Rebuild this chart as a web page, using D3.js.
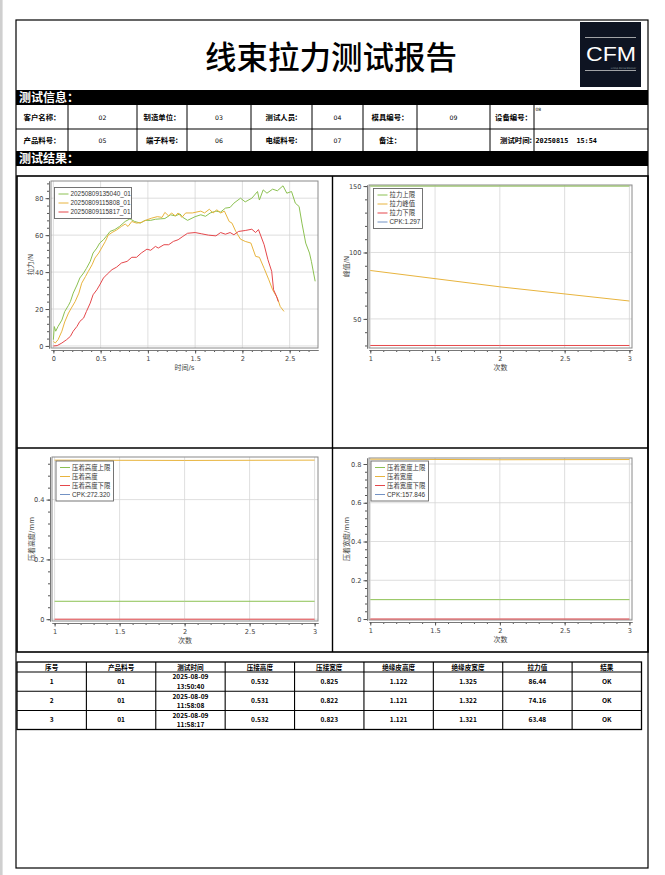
<!DOCTYPE html>
<html lang="zh">
<head>
<meta charset="UTF-8">
<title>线束拉力测试报告</title>
<script src="https://d3js.org/d3.v7.min.js"></script>
<style>
  body { margin: 0; background: #fff; }
  svg { display: block; }
</style>
</head>
<body>
<svg id="page"></svg>
<script>
// ---- data ----
const curveNames = ['20250809135040_01', '20250809115808_01', '20250809115817_01'];
const curve1Time = [0, 0.01, 0.025, 0.05, 0.09, 0.12, 0.16, 0.18, 0.21, 0.25, 0.28, 0.32, 0.35, 0.39, 0.42, 0.46, 0.49, 0.53, 0.57, 0.6, 0.65, 0.7, 0.76, 0.81, 0.86, 0.92, 0.97, 1.03, 1.08, 1.13, 1.18, 1.24, 1.29, 1.34, 1.37, 1.42, 1.5, 1.56, 1.61, 1.66, 1.72, 1.77, 1.82, 1.87, 1.91, 1.98, 2.03, 2.1, 2.16, 2.18, 2.22, 2.26, 2.32, 2.37, 2.43, 2.47, 2.52, 2.56, 2.6, 2.63, 2.67, 2.71, 2.73, 2.77];
const curve1Force = [3.4, 10.5, 8, 10.6, 14, 18.6, 22, 24, 28.6, 33, 36.8, 39.5, 42, 45.8, 50.3, 53, 55.7, 57.5, 60, 62, 63, 64.7, 67.4, 68.8, 67.4, 66.5, 68, 68, 68.6, 68.8, 69, 71, 70.4, 71.5, 69.6, 68, 70, 71, 70.2, 72, 73, 72.5, 74.6, 75, 77.3, 80, 78, 80, 83.6, 79, 84.5, 82.7, 84.9, 84, 86.7, 82.7, 83.6, 77.3, 75.5, 66.5, 55.7, 50.3, 45.8, 35];
const curve2Time = [0, 0.02, 0.05, 0.09, 0.12, 0.16, 0.19, 0.23, 0.27, 0.3, 0.34, 0.37, 0.41, 0.44, 0.48, 0.51, 0.55, 0.58, 0.62, 0.67, 0.72, 0.76, 0.79, 0.83, 0.88, 0.93, 0.99, 1.04, 1.1, 1.15, 1.18, 1.22, 1.25, 1.29, 1.32, 1.36, 1.4, 1.47, 1.56, 1.6, 1.65, 1.69, 1.73, 1.77, 1.81, 1.86, 1.89, 1.93, 1.98, 2.03, 2.09, 2.14, 2.18, 2.23, 2.28, 2.32, 2.37, 2.4, 2.44];
const curve2Force = [2.5, 1.6, 3.4, 8, 13, 17.8, 20.5, 24, 28.6, 34, 37.6, 40.4, 44, 47.6, 50.3, 53, 56.6, 60, 61.4, 62.8, 64.7, 66, 64.7, 67.4, 66.5, 66.9, 68.3, 69.2, 70, 69.6, 72.3, 70.4, 72, 70.4, 72, 69.6, 72, 72, 73, 72, 74, 72, 73.7, 72, 73, 67.4, 66.5, 62, 57.8, 56.6, 55.7, 48.5, 48, 42, 35.8, 30.4, 26, 21.4, 18.7];
const curve3Time = [0, 0.04, 0.09, 0.14, 0.18, 0.21, 0.25, 0.28, 0.32, 0.35, 0.39, 0.42, 0.46, 0.49, 0.53, 0.57, 0.62, 0.67, 0.72, 0.78, 0.83, 0.88, 0.93, 0.99, 1.03, 1.08, 1.11, 1.17, 1.22, 1.27, 1.32, 1.37, 1.42, 1.5, 1.57, 1.64, 1.72, 1.77, 1.82, 1.87, 1.91, 1.96, 2.03, 2.1, 2.14, 2.17, 2.23, 2.27, 2.31, 2.33, 2.36, 2.38];
const curve3Force = [0, 0.2, 1.6, 3.4, 5.2, 8, 10.6, 13.3, 15.1, 18.7, 23.2, 27.7, 30.4, 33, 36.8, 38.9, 41.3, 42.7, 44.9, 45.8, 48, 48, 50.3, 52.4, 51.8, 53.9, 53, 54.8, 54.8, 56.6, 57.5, 59.3, 61, 61.4, 60.7, 60, 59.6, 61.4, 60.5, 61.4, 60.2, 62, 62.5, 63.2, 61.4, 63, 54.8, 46.7, 40.4, 30.4, 27, 24];

const runIndex = [1, 2, 3];
const forceUpper = [150, 150, 150];
const forcePeak = [86.44, 74.16, 63.48];
const forceLower = [30, 30, 30];
const heightUpper = [0.06, 0.06, 0.06];
const crimpHeight = [0.532, 0.531, 0.532];
const heightLower = [0, 0, 0];
const widthUpper = [0.1, 0.1, 0.1];
const crimpWidth = [0.825, 0.822, 0.823];
const widthLower = [0, 0, 0];

const infoLabels1 = ['客户名称：', '制造单位：', '测试人员:', '模具编号：', '设备编号：'];
const infoValues1 = ['02', '03', '04', '09', '08'];
const infoLabels2 = ['产品料号：', '端子料号:', '电缆料号:', '备注：', '测试时间:'];
const infoValues2 = ['05', '06', '07', '', '20250815  15:54'];

const tableHeaders = ['序号', '产品料号', '测试时间', '压接高度', '压接宽度', '绝缘皮高度', '绝缘皮宽度', '拉力值', '结果'];
const productNo = ['01', '01', '01'];
const testDate = ['2025-08-09', '2025-08-09', '2025-08-09'];
const testClock = ['13:50:40', '11:58:08', '11:58:17'];
const insulHeight = [1.122, 1.121, 1.121];
const insulWidth = [1.325, 1.322, 1.321];
const results = ['OK', 'OK', 'OK'];

// ---- styles ----
const GREEN = '#8cc152', ORANGE = '#e8b43e', RED = '#e5474b', BLUE = '#7392c4';
const CJK = '"Noto Sans CJK SC", sans-serif';
const CHART_FONT = '"DejaVu Sans", "Noto Sans CJK SC", sans-serif';
const LEGEND_FONT = '"Liberation Sans", "Noto Sans CJK SC", sans-serif';

const svg = d3.select('#page').attr('width', 665).attr('height', 875);

// left gray strip of the viewer
svg.append('rect').attr('x', 0).attr('y', 0).attr('width', 2.6).attr('height', 875).attr('fill', '#cfcfcf');

// page frame
svg.append('rect').attr('x', 16).attr('y', 20).attr('width', 632).attr('height', 848)
  .attr('fill', 'none').attr('stroke', '#000').attr('stroke-width', 1.2);

// title
svg.append('text').attr('x', 331).attr('y', 69).attr('text-anchor', 'middle')
  .attr('font-family', CJK).attr('font-size', 31.5).attr('font-weight', 500)
  .text('线束拉力测试报告');

// logo
const logo = svg.append('g');
logo.append('rect').attr('x', 580).attr('y', 22).attr('width', 61).attr('height', 65).attr('fill', '#0e1422');
logo.append('line').attr('x1', 585).attr('x2', 636).attr('y1', 37.5).attr('y2', 37.5).attr('stroke', '#c8c8c8').attr('stroke-width', 0.8);
logo.append('line').attr('x1', 585).attr('x2', 636).attr('y1', 70.5).attr('y2', 70.5).attr('stroke', '#c8c8c8').attr('stroke-width', 0.8);
logo.append('text').attr('x', 586).attr('y', 60.5).attr('fill', '#fff')
  .attr('font-family', '"Liberation Sans", Arial, sans-serif').attr('font-size', 20.5)
  .attr('textLength', 50).attr('lengthAdjust', 'spacingAndGlyphs').text('CFM');
logo.append('text').attr('x', 636).attr('y', 68.8).attr('text-anchor', 'end').attr('fill', '#9aa')
  .attr('font-family', CHART_FONT).attr('font-size', 2.5).text('Crimp Force Monitor');

// section bars
function sectionBar(y, label) {
  svg.append('rect').attr('x', 16).attr('y', y).attr('width', 632).attr('height', 15).attr('fill', '#000');
  svg.append('text').attr('x', 19).attr('y', y + 12).attr('fill', '#fff')
    .attr('font-family', CJK).attr('font-size', 12).attr('font-weight', 700).text(label);
}
sectionBar(90, '测试信息：');
sectionBar(151, '测试结果：');

// info table
const infoCols = [16, 68, 137, 187, 251, 312, 363, 417, 490, 534, 648];
const infoRows = [105, 129, 151];
const info = svg.append('g');
infoCols.slice(1, -1).forEach(cx => {
  info.append('line').attr('x1', cx).attr('x2', cx).attr('y1', 105).attr('y2', 151).attr('stroke', '#000').attr('stroke-width', 1);
});
info.append('line').attr('x1', 16).attr('x2', 648).attr('y1', 129).attr('y2', 129).attr('stroke', '#000').attr('stroke-width', 1.2);
[[infoLabels1, infoValues1], [infoLabels2, infoValues2]].forEach(([labels, values], r) => {
  const cy = (infoRows[r] + infoRows[r + 1]) / 2 + 2.6;
  labels.forEach((lab, i) => {
    const a = infoCols[2 * i], b = infoCols[2 * i + 1], c = infoCols[2 * i + 2];
    const t = info.append('text').attr('y', cy).attr('font-family', CJK).attr('font-size', 7.4)
      .attr('font-weight', 700).text(lab);
    if (i === 4) t.attr('x', b - 2).attr('text-anchor', 'end');
    else t.attr('x', (a + b) / 2).attr('text-anchor', 'middle');
    const v = values[i];
    if (i === 4 && r === 0) {
      info.append('text').attr('x', b + 1.5).attr('y', infoRows[0] + 6).attr('font-family', CHART_FONT)
        .attr('font-size', 4.5).text(v);
    } else if (i === 4) {
      info.append('text').attr('x', b + 1.5).attr('y', cy).attr('font-family', '"DejaVu Sans Mono", monospace')
        .attr('font-size', 6.8).attr('font-weight', 700).attr('xml:space', 'preserve').text(v);
    } else {
      info.append('text').attr('x', (b + c) / 2).attr('y', cy).attr('text-anchor', 'middle')
        .attr('font-family', CHART_FONT).attr('font-size', 6.2).text(v);
    }
  });
});

// chart region frame
svg.append('rect').attr('x', 17).attr('y', 176).attr('width', 631).attr('height', 476)
  .attr('fill', 'none').attr('stroke', '#000').attr('stroke-width', 1.6);
svg.append('line').attr('x1', 332.5).attr('x2', 332.5).attr('y1', 176).attr('y2', 652).attr('stroke', '#000').attr('stroke-width', 1.4);
svg.append('line').attr('x1', 17).attr('x2', 648).attr('y1', 448).attr('y2', 448).attr('stroke', '#000').attr('stroke-width', 1.4);

// ---- chart helper ----
function drawChart(c) {
  const g = svg.append('g');
  const x = d3.scaleLinear().domain(c.xDomain).range([c.x0, c.x1]);
  const y = d3.scaleLinear().domain(c.yDomain).range([c.y1, c.y0]);
  g.append('rect').attr('x', c.x0).attr('y', c.y0).attr('width', c.x1 - c.x0).attr('height', c.y1 - c.y0)
    .attr('fill', '#fff');
  // grid
  g.append('g').selectAll('line').data(c.xTicks).join('line')
    .attr('x1', d => x(d)).attr('x2', d => x(d)).attr('y1', c.y0).attr('y2', c.y1)
    .attr('stroke', '#d6d6d6').attr('stroke-width', 0.8);
  g.append('g').selectAll('line').data(c.yTicks).join('line')
    .attr('x1', c.x0).attr('x2', c.x1).attr('y1', d => y(d)).attr('y2', d => y(d))
    .attr('stroke', '#d6d6d6').attr('stroke-width', 0.8);
  // plot outline
  g.append('rect').attr('x', c.x0).attr('y', c.y0).attr('width', c.x1 - c.x0).attr('height', c.y1 - c.y0)
    .attr('fill', 'none').attr('stroke', '#8a8a8a').attr('stroke-width', 1);
  // series
  const line = d3.line().x(d => x(d[0])).y(d => y(d[1]));
  c.series.forEach(s => {
    g.append('path').datum(d3.zip(s.xs, s.ys)).attr('d', line)
      .attr('fill', 'none').attr('stroke', s.color).attr('stroke-width', 1).attr('stroke-linejoin', 'round');
  });
  // axes
  const yAxisX = c.x0 - 2, xAxisY = c.y1 + 2;
  const styleAxis = sel => {
    sel.select('.domain').attr('stroke', '#777');
    sel.selectAll('.tick line').attr('stroke', '#555');
    sel.selectAll('text').attr('fill', '#444').attr('font-family', CHART_FONT).attr('font-size', 6.6);
  };
  g.append('g').attr('transform', `translate(0,${xAxisY})`)
    .call(d3.axisBottom(x).tickValues(c.xMinor).tickSize(2).tickFormat('').tickSizeOuter(0)).call(styleAxis);
  g.append('g').attr('transform', `translate(0,${xAxisY})`)
    .call(d3.axisBottom(x).tickValues(c.xTicks).tickSize(3.5).tickPadding(2.5).tickFormat(d3.format('~g')).tickSizeOuter(0))
    .call(styleAxis);
  g.append('g').attr('transform', `translate(${yAxisX},0)`)
    .call(d3.axisLeft(y).tickValues(c.yMinor).tickSize(2).tickFormat('').tickSizeOuter(0)).call(styleAxis);
  g.append('g').attr('transform', `translate(${yAxisX},0)`)
    .call(d3.axisLeft(y).tickValues(c.yTicks).tickSize(3.5).tickPadding(2).tickFormat(d3.format('~g')).tickSizeOuter(0))
    .call(styleAxis);
  // axis titles
  g.append('text').attr('x', (c.x0 + c.x1) / 2).attr('y', c.y1 + 22).attr('text-anchor', 'middle')
    .attr('font-family', CHART_FONT).attr('font-size', 7).attr('fill', '#444').text(c.xTitle);
  g.append('text').attr('transform', `translate(${c.yTitleX},${(c.y0 + c.y1) / 2}) rotate(-90)`)
    .attr('text-anchor', 'middle').attr('font-family', CHART_FONT).attr('font-size', 7).attr('fill', '#444')
    .text(c.yTitle);
  // legend
  const items = c.series.map(s => ({ label: s.label, color: s.color }));
  if (c.extra) items.push(c.extra);
  const lg = g.append('g').attr('transform', `translate(${c.legend.x},${c.legend.y})`);
  lg.append('rect').attr('width', c.legend.w).attr('height', 9 * items.length + 4)
    .attr('fill', '#fff').attr('stroke', '#666').attr('stroke-width', 0.9);
  items.forEach((it, i) => {
    const ly = 6.5 + i * 9;
    lg.append('line').attr('x1', 4).attr('x2', 14).attr('y1', ly).attr('y2', ly).attr('stroke', it.color).attr('stroke-width', 1);
    lg.append('text').attr('x', 16).attr('y', ly + 2.3).attr('font-family', LEGEND_FONT).attr('font-size', 6.4)
      .attr('fill', '#333').text(it.label);
  });
}

drawChart({
  x0: 51, x1: 318, y0: 181, y1: 348,
  xDomain: [-0.025, 2.8], yDomain: [-1.1, 89.3],
  xTicks: [0, 0.5, 1, 1.5, 2, 2.5], xMinor: d3.range(0, 2.75, 0.1),
  yTicks: [0, 20, 40, 60, 80], yMinor: d3.range(0, 89, 4),
  xTitle: '时间/s', yTitle: '拉力/N', yTitleX: 33,
  series: [
    { xs: curve1Time, ys: curve1Force, color: GREEN, label: curveNames[0] },
    { xs: curve2Time, ys: curve2Force, color: ORANGE, label: curveNames[1] },
    { xs: curve3Time, ys: curve3Force, color: RED, label: curveNames[2] }
  ],
  legend: { x: 54.5, y: 187.5, w: 77 }
});

drawChart({
  x0: 369, x1: 632, y0: 185, y1: 348,
  xDomain: [0.99, 3.02], yDomain: [28.1, 150.8],
  xTicks: [1, 1.5, 2, 2.5, 3], xMinor: d3.range(1, 3.01, 0.1),
  yTicks: [50, 100, 150], yMinor: d3.range(30, 151, 10),
  xTitle: '次数', yTitle: '峰值/N', yTitleX: 349,
  series: [
    { xs: runIndex, ys: forceUpper, color: GREEN, label: '拉力上限' },
    { xs: runIndex, ys: forcePeak, color: ORANGE, label: '拉力峰值' },
    { xs: runIndex, ys: forceLower, color: RED, label: '拉力下限' }
  ],
  extra: { label: 'CPK:1.297', color: BLUE },
  legend: { x: 373.5, y: 188.5, w: 49 }
});

drawChart({
  x0: 52, x1: 318, y0: 457, y1: 621,
  xDomain: [0.98, 3.026], yDomain: [-0.006, 0.5425],
  xTicks: [1, 1.5, 2, 2.5, 3], xMinor: d3.range(1, 3.01, 0.1),
  yTicks: [0, 0.2, 0.4], yMinor: d3.range(0, 0.54, 0.04),
  xTitle: '次数', yTitle: '压着高度/mm', yTitleX: 34,
  series: [
    { xs: runIndex, ys: heightUpper, color: GREEN, label: '压着高度上限' },
    { xs: runIndex, ys: crimpHeight, color: ORANGE, label: '压着高度' },
    { xs: runIndex, ys: heightLower, color: RED, label: '压着高度下限' }
  ],
  extra: { label: 'CPK:272.320', color: BLUE },
  legend: { x: 56, y: 461, w: 57.5 }
});

drawChart({
  x0: 369, x1: 632, y0: 458, y1: 620,
  xDomain: [0.99, 3.02], yDomain: [-0.005, 0.831],
  xTicks: [1, 1.5, 2, 2.5, 3], xMinor: d3.range(1, 3.01, 0.1),
  yTicks: [0, 0.2, 0.4, 0.6, 0.8], yMinor: d3.range(0, 0.83, 0.04),
  xTitle: '次数', yTitle: '压着宽度/mm', yTitleX: 349,
  series: [
    { xs: runIndex, ys: widthUpper, color: GREEN, label: '压着宽度上限' },
    { xs: runIndex, ys: crimpWidth, color: ORANGE, label: '压着宽度' },
    { xs: runIndex, ys: widthLower, color: RED, label: '压着宽度下限' }
  ],
  extra: { label: 'CPK:157.846', color: BLUE },
  legend: { x: 371, y: 461, w: 57.5 }
});

// ---- results table ----
const tX = d3.scaleBand().domain(d3.range(tableHeaders.length)).range([17, 641.5]);
const rowTops = [662, 672, 691.3, 710.5, 729.5];
const tbl = svg.append('g');
tbl.append('rect').attr('x', 17).attr('y', rowTops[0]).attr('width', 624.5).attr('height', rowTops[4] - rowTops[0])
  .attr('fill', 'none').attr('stroke', '#000').attr('stroke-width', 1.3);
d3.range(1, tableHeaders.length).forEach(i => {
  tbl.append('line').attr('x1', tX(i)).attr('x2', tX(i)).attr('y1', rowTops[0]).attr('y2', rowTops[4])
    .attr('stroke', '#000').attr('stroke-width', 1.1);
});
rowTops.slice(1, 4).forEach(ry => {
  tbl.append('line').attr('x1', 17).attr('x2', 641.5).attr('y1', ry).attr('y2', ry).attr('stroke', '#000').attr('stroke-width', 1.1);
});
const cellText = (i, cy, s) => tbl.append('text').attr('x', tX(i) + tX.bandwidth() / 2).attr('y', cy)
  .attr('text-anchor', 'middle').attr('font-family', CJK).attr('font-size', 6.6).attr('font-weight', 700).text(s);
tableHeaders.forEach((h, i) => cellText(i, 669.6, h));
runIndex.forEach((n, r) => {
  const top = rowTops[r + 1], bot = rowTops[r + 2], mid = (top + bot) / 2 + 2.3;
  const vals = [String(n), productNo[r], null, crimpHeight[r].toFixed(3), crimpWidth[r].toFixed(3),
    insulHeight[r].toFixed(3), insulWidth[r].toFixed(3), forcePeak[r].toFixed(2), results[r]];
  vals.forEach((v, i) => {
    if (v === null) {
      cellText(i, mid - 4.6, testDate[r]);
      cellText(i, mid + 4.6, testClock[r]);
    } else cellText(i, mid, v);
  });
});
</script>
</body>
</html>
